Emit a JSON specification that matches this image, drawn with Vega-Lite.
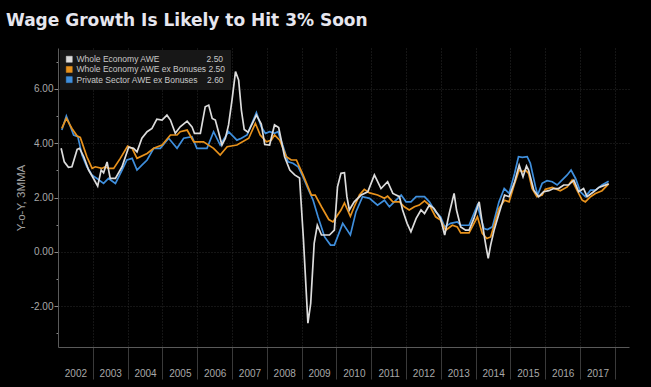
{
  "$schema": "https://vega.github.io/schema/vega-lite/v6.json",
  "width": 571,
  "height": 299,
  "autosize": {"type": "none"},
  "padding": {"left": 58, "top": 48, "right": 22, "bottom": 40},
  "background": "#000000",
  "title": {"text": "Wage Growth Is Likely to Hit 3% Soon", "anchor": "start", "frame": "group", "dx": -52, "offset": 18, "font": "DejaVu Sans", "fontSize": 17, "fontWeight": "bold", "color": "#e6e6ee"},
  "config": {"view": {"stroke": null}},
  "data": {"values": [
    {"s":"P","t":2002.11,"v":4.48},{"s":"P","t":2002.24,"v":5.00},{"s":"P","t":2002.45,"v":4.30},{"s":"P","t":2002.57,"v":4.24},{"s":"P","t":2002.69,"v":3.56},{"s":"P","t":2002.83,"v":3.13},{"s":"P","t":2002.98,"v":2.82},{"s":"P","t":2003.12,"v":2.70},{"s":"P","t":2003.31,"v":2.52},{"s":"P","t":2003.45,"v":2.70},{"s":"P","t":2003.65,"v":2.52},{"s":"P","t":2003.84,"v":3.01},{"s":"P","t":2003.98,"v":3.38},{"s":"P","t":2004.13,"v":3.44},{"s":"P","t":2004.27,"v":3.01},{"s":"P","t":2004.41,"v":3.19},{"s":"P","t":2004.56,"v":3.38},{"s":"P","t":2004.75,"v":3.81},{"s":"P","t":2004.94,"v":3.81},{"s":"P","t":2005.18,"v":4.18},{"s":"P","t":2005.42,"v":3.81},{"s":"P","t":2005.61,"v":4.18},{"s":"P","t":2005.85,"v":4.24},{"s":"P","t":2005.99,"v":3.81},{"s":"P","t":2006.28,"v":3.81},{"s":"P","t":2006.47,"v":4.42},{"s":"P","t":2006.66,"v":3.93},{"s":"P","t":2006.90,"v":4.42},{"s":"P","t":2007.14,"v":4.11},{"s":"P","t":2007.27,"v":4.18},{"s":"P","t":2007.43,"v":4.30},{"s":"P","t":2007.70,"v":5.12},{"s":"P","t":2007.84,"v":4.60},{"s":"P","t":2007.96,"v":4.36},{"s":"P","t":2008.08,"v":4.42},{"s":"P","t":2008.22,"v":4.36},{"s":"P","t":2008.32,"v":4.42},{"s":"P","t":2008.47,"v":3.87},{"s":"P","t":2008.61,"v":3.31},{"s":"P","t":2008.75,"v":3.26},{"s":"P","t":2008.90,"v":3.13},{"s":"P","t":2009.04,"v":2.76},{"s":"P","t":2009.18,"v":2.33},{"s":"P","t":2009.33,"v":1.90},{"s":"P","t":2009.47,"v":1.29},{"s":"P","t":2009.66,"v":0.55},{"s":"P","t":2009.83,"v":0.25},{"s":"P","t":2009.94,"v":0.25},{"s":"P","t":2010.18,"v":1.05},{"s":"P","t":2010.40,"v":0.62},{"s":"P","t":2010.56,"v":1.47},{"s":"P","t":2010.75,"v":2.03},{"s":"P","t":2010.95,"v":1.97},{"s":"P","t":2011.18,"v":1.72},{"s":"P","t":2011.38,"v":1.90},{"s":"P","t":2011.52,"v":1.66},{"s":"P","t":2011.66,"v":1.84},{"s":"P","t":2011.86,"v":2.09},{"s":"P","t":2012.00,"v":1.84},{"s":"P","t":2012.14,"v":1.84},{"s":"P","t":2012.29,"v":2.03},{"s":"P","t":2012.53,"v":2.03},{"s":"P","t":2012.67,"v":1.84},{"s":"P","t":2012.85,"v":1.47},{"s":"P","t":2012.99,"v":1.29},{"s":"P","t":2013.11,"v":0.92},{"s":"P","t":2013.28,"v":1.05},{"s":"P","t":2013.47,"v":1.10},{"s":"P","t":2013.57,"v":0.98},{"s":"P","t":2013.81,"v":0.98},{"s":"P","t":2014.05,"v":1.72},{"s":"P","t":2014.14,"v":1.29},{"s":"P","t":2014.24,"v":0.86},{"s":"P","t":2014.34,"v":0.82},{"s":"P","t":2014.48,"v":0.92},{"s":"P","t":2014.67,"v":1.84},{"s":"P","t":2014.82,"v":2.33},{"s":"P","t":2014.96,"v":2.15},{"s":"P","t":2015.12,"v":2.89},{"s":"P","t":2015.23,"v":3.50},{"s":"P","t":2015.34,"v":3.48},{"s":"P","t":2015.48,"v":3.50},{"s":"P","t":2015.57,"v":3.26},{"s":"P","t":2015.72,"v":2.39},{"s":"P","t":2015.78,"v":2.09},{"s":"P","t":2015.91,"v":2.52},{"s":"P","t":2016.05,"v":2.62},{"s":"P","t":2016.20,"v":2.58},{"s":"P","t":2016.34,"v":2.46},{"s":"P","t":2016.48,"v":2.64},{"s":"P","t":2016.63,"v":2.83},{"s":"P","t":2016.74,"v":3.01},{"s":"P","t":2016.87,"v":2.70},{"s":"P","t":2017.01,"v":2.21},{"s":"P","t":2017.15,"v":2.03},{"s":"P","t":2017.30,"v":2.27},{"s":"P","t":2017.44,"v":2.27},{"s":"P","t":2017.63,"v":2.46},{"s":"P","t":2017.82,"v":2.60},
    {"s":"O","t":2002.11,"v":4.54},{"s":"O","t":2002.24,"v":4.91},{"s":"O","t":2002.40,"v":4.54},{"s":"O","t":2002.55,"v":4.26},{"s":"O","t":2002.64,"v":4.21},{"s":"O","t":2002.83,"v":3.50},{"s":"O","t":2002.98,"v":3.07},{"s":"O","t":2003.07,"v":3.13},{"s":"O","t":2003.26,"v":3.07},{"s":"O","t":2003.36,"v":3.13},{"s":"O","t":2003.45,"v":3.07},{"s":"O","t":2003.60,"v":3.07},{"s":"O","t":2003.79,"v":3.44},{"s":"O","t":2004.00,"v":3.89},{"s":"O","t":2004.13,"v":3.81},{"s":"O","t":2004.27,"v":3.44},{"s":"O","t":2004.56,"v":3.62},{"s":"O","t":2004.75,"v":3.81},{"s":"O","t":2004.99,"v":3.93},{"s":"O","t":2005.23,"v":4.30},{"s":"O","t":2005.42,"v":4.30},{"s":"O","t":2005.51,"v":4.42},{"s":"O","t":2005.71,"v":4.48},{"s":"O","t":2005.90,"v":4.05},{"s":"O","t":2006.18,"v":4.05},{"s":"O","t":2006.47,"v":3.81},{"s":"O","t":2006.66,"v":3.56},{"s":"O","t":2006.86,"v":3.87},{"s":"O","t":2007.14,"v":3.93},{"s":"O","t":2007.48,"v":4.18},{"s":"O","t":2007.67,"v":4.73},{"s":"O","t":2007.81,"v":4.30},{"s":"O","t":2007.99,"v":4.05},{"s":"O","t":2008.13,"v":4.11},{"s":"O","t":2008.22,"v":4.30},{"s":"O","t":2008.37,"v":4.11},{"s":"O","t":2008.56,"v":3.50},{"s":"O","t":2008.70,"v":3.38},{"s":"O","t":2008.85,"v":3.38},{"s":"O","t":2009.04,"v":2.83},{"s":"O","t":2009.28,"v":2.09},{"s":"O","t":2009.39,"v":2.09},{"s":"O","t":2009.57,"v":1.66},{"s":"O","t":2009.78,"v":1.19},{"s":"O","t":2009.90,"v":1.10},{"s":"O","t":2010.00,"v":1.29},{"s":"O","t":2010.13,"v":1.54},{"s":"O","t":2010.23,"v":1.80},{"s":"O","t":2010.40,"v":1.31},{"s":"O","t":2010.51,"v":1.66},{"s":"O","t":2010.66,"v":2.09},{"s":"O","t":2010.80,"v":2.30},{"s":"O","t":2010.95,"v":2.17},{"s":"O","t":2011.18,"v":2.09},{"s":"O","t":2011.38,"v":1.97},{"s":"O","t":2011.47,"v":2.05},{"s":"O","t":2011.62,"v":1.84},{"s":"O","t":2011.81,"v":1.84},{"s":"O","t":2011.95,"v":1.66},{"s":"O","t":2012.09,"v":1.54},{"s":"O","t":2012.24,"v":1.66},{"s":"O","t":2012.38,"v":1.72},{"s":"O","t":2012.53,"v":1.88},{"s":"O","t":2012.67,"v":1.72},{"s":"O","t":2012.85,"v":1.29},{"s":"O","t":2012.99,"v":1.17},{"s":"O","t":2013.14,"v":0.80},{"s":"O","t":2013.33,"v":0.98},{"s":"O","t":2013.47,"v":0.92},{"s":"O","t":2013.57,"v":0.70},{"s":"O","t":2013.81,"v":0.70},{"s":"O","t":2014.05,"v":1.29},{"s":"O","t":2014.19,"v":0.68},{"s":"O","t":2014.32,"v":0.49},{"s":"O","t":2014.43,"v":0.55},{"s":"O","t":2014.67,"v":1.60},{"s":"O","t":2014.83,"v":1.90},{"s":"O","t":2014.96,"v":1.84},{"s":"O","t":2015.12,"v":2.52},{"s":"O","t":2015.25,"v":3.01},{"s":"O","t":2015.34,"v":2.95},{"s":"O","t":2015.43,"v":3.01},{"s":"O","t":2015.52,"v":2.89},{"s":"O","t":2015.62,"v":2.33},{"s":"O","t":2015.76,"v":2.03},{"s":"O","t":2015.91,"v":2.09},{"s":"O","t":2016.00,"v":2.30},{"s":"O","t":2016.20,"v":2.37},{"s":"O","t":2016.43,"v":2.25},{"s":"O","t":2016.63,"v":2.39},{"s":"O","t":2016.77,"v":2.64},{"s":"O","t":2016.91,"v":2.27},{"s":"O","t":2017.06,"v":1.90},{"s":"O","t":2017.15,"v":1.84},{"s":"O","t":2017.30,"v":2.03},{"s":"O","t":2017.44,"v":2.15},{"s":"O","t":2017.63,"v":2.25},{"s":"O","t":2017.82,"v":2.50},
    {"s":"W","t":2002.09,"v":3.81},{"s":"W","t":2002.18,"v":3.31},{"s":"W","t":2002.30,"v":3.11},{"s":"W","t":2002.40,"v":3.13},{"s":"W","t":2002.55,"v":3.77},{"s":"W","t":2002.62,"v":3.81},{"s":"W","t":2002.74,"v":3.50},{"s":"W","t":2002.88,"v":3.01},{"s":"W","t":2003.02,"v":2.70},{"s":"W","t":2003.14,"v":2.42},{"s":"W","t":2003.24,"v":3.01},{"s":"W","t":2003.31,"v":2.91},{"s":"W","t":2003.41,"v":3.31},{"s":"W","t":2003.50,"v":2.70},{"s":"W","t":2003.65,"v":2.70},{"s":"W","t":2003.84,"v":3.13},{"s":"W","t":2004.03,"v":3.85},{"s":"W","t":2004.17,"v":3.81},{"s":"W","t":2004.27,"v":3.68},{"s":"W","t":2004.41,"v":4.18},{"s":"W","t":2004.56,"v":4.42},{"s":"W","t":2004.70,"v":4.54},{"s":"W","t":2004.84,"v":4.88},{"s":"W","t":2004.99,"v":4.85},{"s":"W","t":2005.13,"v":5.03},{"s":"W","t":2005.23,"v":4.85},{"s":"W","t":2005.37,"v":4.36},{"s":"W","t":2005.51,"v":4.60},{"s":"W","t":2005.71,"v":4.81},{"s":"W","t":2005.85,"v":4.60},{"s":"W","t":2005.92,"v":4.36},{"s":"W","t":2006.09,"v":4.36},{"s":"W","t":2006.23,"v":5.34},{"s":"W","t":2006.33,"v":5.40},{"s":"W","t":2006.43,"v":4.91},{"s":"W","t":2006.52,"v":4.85},{"s":"W","t":2006.61,"v":4.42},{"s":"W","t":2006.71,"v":3.93},{"s":"W","t":2006.81,"v":4.18},{"s":"W","t":2006.90,"v":4.67},{"s":"W","t":2007.00,"v":5.59},{"s":"W","t":2007.10,"v":6.63},{"s":"W","t":2007.19,"v":6.32},{"s":"W","t":2007.27,"v":5.20},{"s":"W","t":2007.35,"v":4.50},{"s":"W","t":2007.46,"v":4.40},{"s":"W","t":2007.70,"v":5.03},{"s":"W","t":2007.84,"v":4.70},{"s":"W","t":2007.94,"v":3.95},{"s":"W","t":2008.08,"v":3.93},{"s":"W","t":2008.22,"v":4.67},{"s":"W","t":2008.34,"v":4.57},{"s":"W","t":2008.51,"v":3.50},{"s":"W","t":2008.66,"v":3.01},{"s":"W","t":2008.80,"v":2.83},{"s":"W","t":2008.94,"v":2.72},{"s":"W","t":2009.05,"v":0.50},{"s":"W","t":2009.18,"v":-2.62},{"s":"W","t":2009.26,"v":-1.90},{"s":"W","t":2009.36,"v":0.31},{"s":"W","t":2009.45,"v":0.98},{"s":"W","t":2009.57,"v":0.62},{"s":"W","t":2009.80,"v":0.62},{"s":"W","t":2009.94,"v":0.80},{"s":"W","t":2010.03,"v":2.39},{"s":"W","t":2010.13,"v":2.89},{"s":"W","t":2010.23,"v":2.91},{"s":"W","t":2010.30,"v":2.03},{"s":"W","t":2010.37,"v":1.54},{"s":"W","t":2010.51,"v":1.84},{"s":"W","t":2010.71,"v":2.09},{"s":"W","t":2010.90,"v":2.21},{"s":"W","t":2011.09,"v":2.83},{"s":"W","t":2011.28,"v":2.33},{"s":"W","t":2011.47,"v":2.58},{"s":"W","t":2011.62,"v":2.15},{"s":"W","t":2011.81,"v":2.03},{"s":"W","t":2011.90,"v":1.54},{"s":"W","t":2012.03,"v":1.05},{"s":"W","t":2012.14,"v":0.74},{"s":"W","t":2012.29,"v":1.23},{"s":"W","t":2012.43,"v":1.54},{"s":"W","t":2012.53,"v":1.41},{"s":"W","t":2012.67,"v":1.72},{"s":"W","t":2012.80,"v":1.60},{"s":"W","t":2012.99,"v":1.23},{"s":"W","t":2013.11,"v":0.62},{"s":"W","t":2013.24,"v":1.41},{"s":"W","t":2013.38,"v":2.15},{"s":"W","t":2013.45,"v":1.54},{"s":"W","t":2013.57,"v":0.92},{"s":"W","t":2013.71,"v":0.80},{"s":"W","t":2013.81,"v":0.80},{"s":"W","t":2013.95,"v":1.23},{"s":"W","t":2014.10,"v":1.84},{"s":"W","t":2014.19,"v":1.05},{"s":"W","t":2014.29,"v":0.25},{"s":"W","t":2014.36,"v":-0.24},{"s":"W","t":2014.43,"v":0.25},{"s":"W","t":2014.53,"v":0.80},{"s":"W","t":2014.67,"v":1.41},{"s":"W","t":2014.83,"v":2.09},{"s":"W","t":2014.96,"v":2.03},{"s":"W","t":2015.12,"v":2.58},{"s":"W","t":2015.25,"v":3.19},{"s":"W","t":2015.36,"v":2.76},{"s":"W","t":2015.46,"v":3.16},{"s":"W","t":2015.52,"v":3.01},{"s":"W","t":2015.67,"v":2.27},{"s":"W","t":2015.81,"v":2.03},{"s":"W","t":2015.95,"v":2.21},{"s":"W","t":2016.10,"v":2.25},{"s":"W","t":2016.24,"v":2.33},{"s":"W","t":2016.38,"v":2.33},{"s":"W","t":2016.53,"v":2.46},{"s":"W","t":2016.67,"v":2.46},{"s":"W","t":2016.82,"v":2.64},{"s":"W","t":2016.96,"v":2.21},{"s":"W","t":2017.10,"v":2.33},{"s":"W","t":2017.20,"v":2.03},{"s":"W","t":2017.39,"v":2.21},{"s":"W","t":2017.54,"v":2.37},{"s":"W","t":2017.82,"v":2.50}
  ]},
  "mark": {"type": "line", "strokeWidth": 1.7, "clip": true},
  "encoding": {
    "x": {"field": "t", "type": "quantitative",
      "scale": {"domain": [2002, 2018.405], "nice": false, "zero": false},
      "axis": {"title": null, "values": [2003,2004,2005,2006,2007,2008,2009,2010,2011,2012,2013,2014,2015,2016,2017,2018],
        "labelExpr": "'' + (datum.value - 1)", "labelOffset": -17.4, "labelPadding": -11,
        "labelFont": "Liberation Sans", "labelFontSize": 10, "labelColor": "#a8a8a8",
        "tickSize": 32, "tickColor": "#3a3a3a", "tickWidth": 1,
        "domainColor": "#5a5a5a", "domainWidth": 1,
        "grid": true, "gridColor": "#2a2a2a", "gridDash": [1, 2], "gridWidth": 1}},
    "y": {"field": "v", "type": "quantitative",
      "scale": {"domain": [-3.5, 7.5], "nice": false, "zero": false},
      "axis": {"title": "Y-o-Y, 3MMA", "titleColor": "#a0a0a0", "titleFont": "Liberation Sans", "titleFontSize": 11.5, "titleFontWeight": "normal", "titlePadding": 4,
        "values": [-3,-2,-1,0,1,2,3,4,5,6,7],
        "labelExpr": "datum.value % 2 == 0 ? replace(format(datum.value, '.2f'), '\u2212', '-') : ''",
        "labelFont": "Liberation Sans", "labelFontSize": 10, "labelColor": "#a8a8a8", "labelPadding": 1,
        "tickSize": {"condition": {"test": "datum.value % 2 == 0", "value": 4}, "value": 2},
        "tickColor": "#8a8a8a", "domainColor": "#5a5a5a",
        "grid": true, "gridColor": "#2a2a2a", "gridDash": [1, 2],
        "gridOpacity": {"condition": {"test": "datum.value % 2 == 0", "value": 1}, "value": 0}}},
    "color": {"field": "s", "type": "nominal",
      "scale": {"domain": ["W", "O", "P"], "range": ["#dcdcdc", "#e8921c", "#3f8fdd"]},
      "legend": {"title": null, "orient": "top-left", "offset": 2, "padding": 5,
        "fillColor": "#171717", "strokeColor": null,
        "symbolType": "square", "symbolSize": 36, "symbolStrokeWidth": 0,
        "labelFont": "Liberation Sans", "labelFontSize": 8.5, "labelColor": "#c8c8c8", "labelOffset": 3,
        "rowPadding": 1.2,
        "labelExpr": "datum.value == 'W' ? 'Whole Economy AWE\u00a0\u00a0\u00a0\u00a0\u00a0\u00a0\u00a0\u00a0\u00a0\u00a0\u00a0\u00a0\u00a0\u00a0\u00a0\u00a0\u00a0\u00a0\u00a0\u00a02.50' : datum.value == 'O' ? 'Whole Economy AWE ex Bonuses\u00a02.50' : 'Private Sector AWE ex Bonuses\u00a0\u00a0\u00a0\u00a02.60'",
        "encode": {"symbols": {"update": {"fill": {"scale": "color", "field": "value"}, "stroke": {"value": "#eeeeee"}, "strokeWidth": {"value": 0.5}}}}}}
  }
}
